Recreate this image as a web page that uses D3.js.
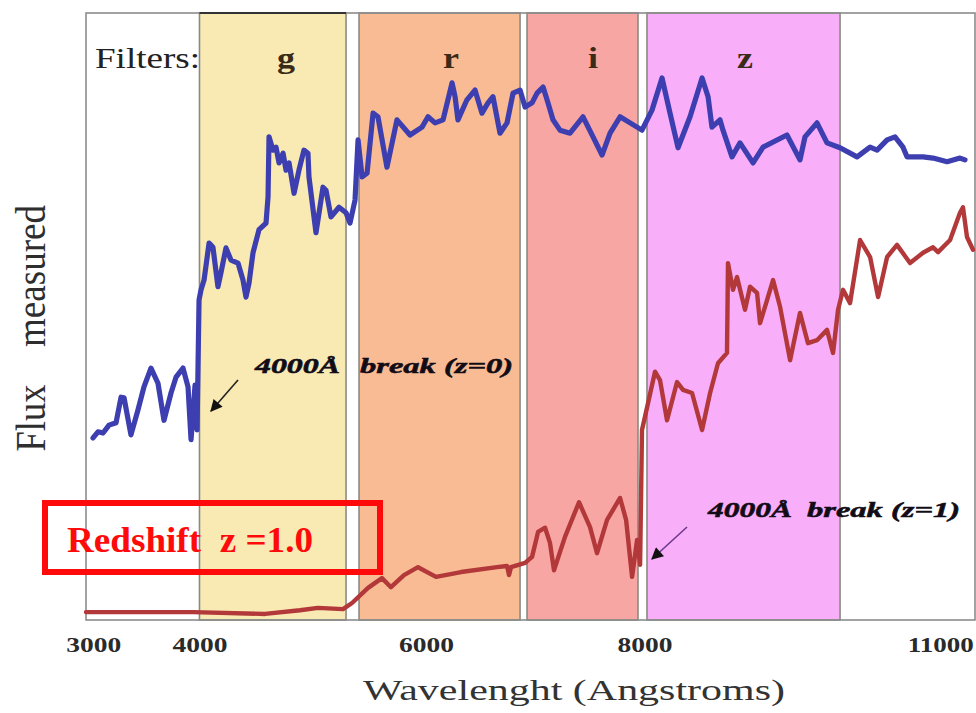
<!DOCTYPE html>
<html>
<head>
<meta charset="utf-8">
<script src="https://cdn.jsdelivr.net/npm/d3@7/dist/d3.min.js"></script>
<style>
  html, body { margin: 0; padding: 0; background: #ffffff; }
  svg { display: block; }
  text { font-family: "Liberation Serif", "Times New Roman", serif; }
</style>
</head>
<body>
<svg id="chart" width="976" height="713"></svg>
<script>
// Filter passbands (wavelength in Angstroms)
const filterNames = ["g", "r", "i", "z"];
const filterStart = [4000, 5434, 6944, 8022];
const filterEnd   = [5317, 6881, 7941, 9757];
const filterColors = ["#f9eab4", "#f9bb93", "#f8a6a3", "#f8aef8"];

// Axis tick labels
const tickValues = [3000, 4000, 6000, 8000, 11000];

// Galaxy spectrum at z = 0 : [wavelength, flux]
const spectrumZ0 = [
  [3043,30.0],[3088,31.0],[3133,30.8],[3187,32.1],[3250,32.5],[3295,36.7],[3322,36.6],
  [3384,30.5],[3447,34.6],[3501,38.4],[3564,41.5],[3627,39.0],[3681,32.9],[3744,37.4],
  [3789,40.0],[3852,41.5],[3897,38.4],[3924,29.7],[3960,38.7],[3978,31.3],[3996,52.7],
  [4014,54.4],[4041,56.0],[4086,62.1],[4121,61.4],[4166,54.9],[4193,57.2],[4238,61.3],
  [4283,59.3],[4346,58.8],[4391,56.0],[4418,53.2],[4445,55.5],[4481,60.5],[4535,64.3],
  [4598,65.4],[4616,69.7],[4625,79.6],[4661,77.4],[4688,77.9],[4715,75.3],[4751,76.9],
  [4778,74.1],[4805,75.3],[4850,70.3],[4894,74.1],[4939,77.4],[4975,76.9],[4984,73.0],
  [5047,63.8],[5110,71.3],[5137,70.8],[5182,66.4],[5254,68.0],[5317,67.1],[5353,65.4],
  [5398,69.2],[5425,79.1],[5461,73.0],[5506,73.6],[5560,83.5],[5604,82.9],[5685,74.6],
  [5775,82.4],[5892,79.9],[6000,81.2],[6054,82.9],[6117,81.9],[6189,82.4],[6270,88.5],
  [6297,86.2],[6323,82.4],[6404,85.7],[6476,87.3],[6539,83.5],[6593,85.2],[6638,86.2],
  [6701,80.2],[6764,81.9],[6818,86.8],[6881,87.3],[6926,84.5],[6989,85.2],[7034,86.8],
  [7088,87.8],[7132,85.2],[7177,82.4],[7240,80.7],[7330,80.2],[7447,82.9],[7537,79.6],
  [7618,76.6],[7690,80.2],[7780,82.9],[7870,81.9],[7977,80.7],[8067,84.0],[8157,89.3],
  [8229,83.5],[8301,77.8],[8409,82.9],[8517,89.3],[8571,86.2],[8606,81.2],[8678,82.4],
  [8705,80.7],[8786,76.3],[8858,78.6],[8975,75.3],[9065,77.9],[9280,79.9],[9397,75.8],
  [9442,79.6],[9550,81.9],[9640,78.6],[9757,77.8],[9910,76.3],[10027,77.9],[10090,77.4],
  [10180,79.1],[10251,79.6],[10323,77.9],[10359,76.3],[10503,76.3],[10593,76.1],
  [10719,75.5],[10835,76.1],[10880,75.8]
];

// Same spectrum redshifted to z = 1 : [wavelength, flux]
const spectrumZ1 = [
  [2980,1.3],[3942,1.3],[4589,1.0],[4903,1.6],[5065,2.0],[5290,1.8],[5371,2.8],
  [5515,5.3],[5640,6.9],[5721,5.4],[5838,7.4],[5964,8.7],[6126,7.1],[6351,7.9],
  [6674,8.7],[6764,8.9],[6782,7.4],[6800,8.7],[6926,9.4],[6989,10.4],[7043,14.5],
  [7106,15.2],[7150,12.7],[7186,8.2],[7285,13.7],[7411,19.4],[7510,15.3],[7573,11.0],
  [7663,16.5],[7780,20.1],[7834,16.5],[7888,7.1],[7933,13.2],[7960,9.1],[7977,31.3],
  [8031,35.7],[8094,40.9],[8139,39.5],[8202,32.9],[8292,39.2],[8346,37.9],[8427,37.4],
  [8517,31.3],[8589,37.4],[8660,42.3],[8741,44.0],[8750,58.8],[8795,54.4],[8831,56.5],
  [8903,51.1],[8948,54.9],[9011,53.9],[9038,48.9],[9101,52.7],[9155,56.0],[9218,51.6],
  [9308,42.8],[9397,50.6],[9469,45.6],[9550,46.1],[9640,47.8],[9694,44.0],[9739,51.1],
  [9784,54.4],[9847,52.2],[9937,62.6],[10027,59.8],[10099,53.2],[10180,59.8],
  [10269,61.8],[10386,58.8],[10503,60.5],[10593,61.4],[10638,60.6],[10746,62.6],
  [10835,67.1],[10862,68.0],[10898,63.1],[10952,61.0]
];

const svg = d3.select("#chart");
const plot = { left: 86, right: 975, top: 13, bottom: 620 };

const x = d3.scaleLinear().domain([2980, 10970]).range([plot.left, plot.right]);
const y = d3.scaleLinear().domain([0, 100]).range([plot.bottom, plot.top]);

// arrow head marker
svg.append("defs").append("marker")
  .attr("id", "head")
  .attr("viewBox", "0 0 10 10")
  .attr("refX", 9).attr("refY", 5)
  .attr("markerWidth", 15).attr("markerHeight", 12)
  .attr("markerUnits", "userSpaceOnUse")
  .attr("orient", "auto")
  .append("path").attr("d", "M0,0 L10,5 L0,10 Z").attr("fill", "#111");

// plot frame background
svg.append("rect")
  .attr("x", plot.left).attr("y", plot.top)
  .attr("width", plot.right - plot.left).attr("height", plot.bottom - plot.top)
  .attr("fill", "#ffffff");

// filter bands
svg.append("g").selectAll("rect")
  .data(filterNames)
  .join("rect")
  .attr("x", (d, i) => x(filterStart[i]))
  .attr("y", plot.top)
  .attr("width", (d, i) => x(filterEnd[i]) - x(filterStart[i]))
  .attr("height", plot.bottom - plot.top)
  .attr("fill", (d, i) => filterColors[i])
  .attr("stroke", "#8a8a82")
  .attr("stroke-width", 1.6);

// frame
svg.append("rect")
  .attr("x", plot.left).attr("y", plot.top)
  .attr("width", plot.right - plot.left).attr("height", plot.bottom - plot.top)
  .attr("fill", "none")
  .attr("stroke", "#8c8c8c")
  .attr("stroke-width", 1.6);
// darker top edge over the g band
svg.append("line")
  .attr("x1", x(filterStart[0])).attr("x2", x(filterEnd[0]))
  .attr("y1", plot.top).attr("y2", plot.top)
  .attr("stroke", "#333").attr("stroke-width", 2);

// filter labels
svg.append("text")
  .attr("x", 95).attr("y", 68)
  .attr("font-size", 30)
  .attr("fill", "#222")
  .attr("textLength", 105).attr("lengthAdjust", "spacingAndGlyphs")
  .text("Filters:");

const letterX = [286, 451, 593, 745];
svg.append("g").selectAll("text")
  .data(filterNames)
  .join("text")
  .attr("x", (d, i) => letterX[i])
  .attr("y", 68)
  .attr("text-anchor", "middle")
  .attr("font-size", 30)
  .attr("font-weight", "bold")
  .attr("fill", "#3a2a18")
  .attr("transform", (d, i) => `translate(${letterX[i]},0) scale(1.2,1) translate(${-letterX[i]},0)`)
  .text(d => d);

// spectra
const line = d3.line().x(d => x(d[0])).y(d => y(d[1]));

svg.append("path")
  .datum(spectrumZ1)
  .attr("d", line)
  .attr("fill", "none")
  .attr("stroke", "#b2383a")
  .attr("stroke-width", 4.4)
  .attr("stroke-linejoin", "round")
  .attr("stroke-linecap", "round");

svg.append("path")
  .datum(spectrumZ0)
  .attr("d", line)
  .attr("fill", "none")
  .attr("stroke", "#3d3fb0")
  .attr("stroke-width", 5.2)
  .attr("stroke-linejoin", "round")
  .attr("stroke-linecap", "round");

// break annotations
function note(parts, baseline) {
  parts.forEach(p => {
    svg.append("text")
      .attr("x", p.x).attr("y", baseline)
      .attr("font-size", 20)
      .attr("font-weight", "bold")
      .attr("font-style", "italic")
      .attr("fill", "#120c16")
      .attr("stroke", "#120c16")
      .attr("stroke-width", 0.5)
      .attr("textLength", p.len).attr("lengthAdjust", "spacingAndGlyphs")
      .text(p.t);
  });
}
note([{ t: "4000Å", x: 255, len: 85 }, { t: "break (z=0)", x: 360, len: 153 }], 373);
note([{ t: "4000Å", x: 708, len: 84 }, { t: "break (z=1)", x: 807, len: 153 }], 517);

svg.append("line")
  .attr("x1", 238).attr("y1", 380).attr("x2", 211).attr("y2", 411)
  .attr("stroke", "#222").attr("stroke-width", 1.6)
  .attr("marker-end", "url(#head)");
svg.append("line")
  .attr("x1", 687).attr("y1", 527).attr("x2", 652).attr("y2", 559)
  .attr("stroke", "#6a3a8a").attr("stroke-width", 1.6)
  .attr("marker-end", "url(#head)");

// x axis labels
const xAxis = d3.axisBottom(x).tickValues(tickValues).tickSize(0).tickPadding(0)
  .tickFormat(d3.format("d"));
const gx = svg.append("g").attr("transform", `translate(0,${plot.bottom})`).call(xAxis);
gx.select(".domain").remove();
gx.selectAll("text")
  .attr("y", 0).attr("dy", null)
  .attr("transform", "translate(0,32)")
  .attr("font-family", "'Liberation Serif', serif")
  .attr("font-size", 21)
  .attr("font-weight", "bold")
  .attr("fill", "#2a2a2a")
  .attr("textLength", d => d >= 10000 ? 66 : 55)
  .attr("lengthAdjust", "spacingAndGlyphs")
  .attr("text-anchor", d => d >= 10000 ? "end" : "middle")
  .attr("x", d => d >= 10000 ? -5 : (d === 3000 ? 5 : (d === 6000 ? 4 : 0)));

svg.append("text")
  .attr("x", 363).attr("y", 700)
  .attr("font-size", 30)
  .attr("fill", "#333")
  .attr("textLength", 422).attr("lengthAdjust", "spacingAndGlyphs")
  .text("Wavelenght (Angstroms)");

// y axis label
[["Flux", 418, 67], ["measured", 276, 142]].forEach(([t, cy, len]) => {
  svg.append("text")
    .attr("transform", `translate(45,${cy}) scale(1.25,1) rotate(-90)`)
    .attr("text-anchor", "middle")
    .attr("font-size", 34)
    .attr("fill", "#2e2e2e")
    .attr("textLength", len).attr("lengthAdjust", "spacingAndGlyphs")
    .text(t);
});

// redshift callout
svg.append("rect")
  .attr("x", 45).attr("y", 503)
  .attr("width", 335).attr("height", 69)
  .attr("fill", "none")
  .attr("stroke", "#ff0a0a")
  .attr("stroke-width", 6);
svg.append("text")
  .attr("x", 67).attr("y", 552)
  .attr("font-size", 36)
  .attr("font-weight", "bold")
  .attr("fill", "#ff0a0a")
  .style("white-space", "pre")
  .attr("textLength", 246).attr("lengthAdjust", "spacingAndGlyphs")
  .text("Redshift  z =1.0");
</script>
</body>
</html>
